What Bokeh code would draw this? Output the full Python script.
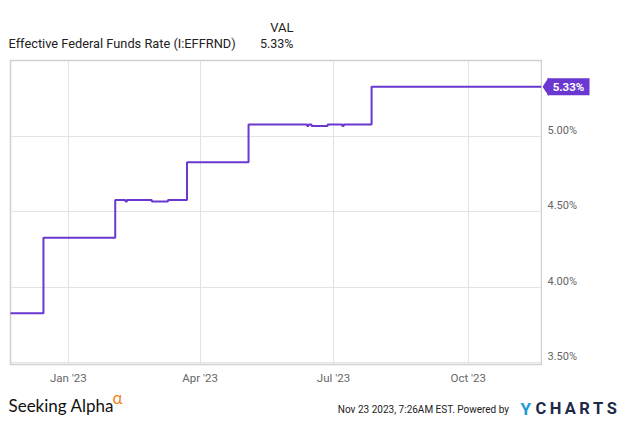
import pandas as pd
from bokeh.plotting import figure
from bokeh.layouts import column, row
from bokeh.models import (Range1d, FixedTicker, DatetimeTickFormatter, ColumnDataSource)
from bokeh.core.properties import value
from bokeh.embed import file_html
from bokeh.resources import INLINE

# ---------------- data ----------------
series_name = "Effective Federal Funds Rate (I:EFFRND)"
change_dates = ["2022-11-22", "2022-12-15", "2023-02-02", "2023-02-09", "2023-02-10",
                "2023-02-27", "2023-03-10", "2023-03-23", "2023-05-04", "2023-06-13",
                "2023-06-14", "2023-06-16", "2023-06-27", "2023-07-07", "2023-07-08",
                "2023-07-27", "2023-11-20"]
rate_values = [3.83, 4.33, 4.58, 4.57, 4.58,
               4.57, 4.58, 4.83, 5.08, 5.07,
               5.08, 5.07, 5.08, 5.07, 5.08,
               5.33, 5.33]
y_ticks = [3.5, 4.0, 4.5, 5.0]
y_tick_labels = [f"{t:.2f}%" for t in y_ticks]
x_tick_dates = ["2023-01-01", "2023-04-01", "2023-07-01", "2023-10-01"]
x_start, x_end = "2022-11-22 12:00", "2023-11-20"
y_start, y_end = 3.49, 5.503
footer_text = "Nov 23 2023, 7:26AM EST.  Powered by"

PURPLE = "#6a38d0"
FONT = "Roboto"
W = 619

def ms(d):
    return pd.Timestamp(d).value / 1e6

dates = pd.to_datetime(change_dates)
last_y = rate_values[-1]
last_label = f"{last_y:.2f}%"

def blank(fig):
    fig.background_fill_color = "white"
    fig.border_fill_color = "white"
    fig.outline_line_color = None
    fig.grid.visible = False
    return fig

# ---------------- header ----------------
hdr = blank(figure(width=W, height=52, output_backend="svg", toolbar_location=None,
                   x_range=Range1d(0, W), y_range=Range1d(52, 0),
                   x_axis_location=None, y_axis_location=None,
                   min_border=0))
hdr.text(x=[293], y=[27], text=["VAL"], text_align="right", text_baseline="middle",
         text_font=value(FONT), text_font_size="13px", text_color="#222222")
hdr.text(x=[8], y=[43], text=[series_name], text_align="left", text_baseline="middle",
         text_font=value(FONT), text_font_size="12.8px", text_color="#222222")
hdr.text(x=[293], y=[43], text=[last_label], text_align="right", text_baseline="middle",
         text_font=value(FONT), text_font_size="12.5px", text_color="#222222")

# ---------------- main chart ----------------
H_MAIN = 336
yr = Range1d(y_start, y_end)
p = figure(width=542, height=H_MAIN, output_backend="svg", toolbar_location=None,
           x_axis_type="datetime", y_axis_location=None,
           x_range=Range1d(ms(x_start), ms(x_end)), y_range=yr,
           min_border_left=10, min_border_right=1, min_border_top=8, min_border_bottom=24)
p.background_fill_color = "white"
p.border_fill_color = "white"
p.outline_line_color = "#d0d0d0"
p.outline_line_width = 1.5

xax = p.xaxis[0]
xax.ticker = FixedTicker(ticks=[ms(d) for d in x_tick_dates])
xax.formatter = DatetimeTickFormatter(days="%b '%y", months="%b '%y", years="%b '%y")
xax.axis_line_color = None
xax.major_tick_line_color = None
xax.minor_tick_line_color = None
xax.major_tick_out = 0
xax.major_tick_in = 0
xax.minor_tick_out = 0
xax.major_label_standoff = 6
xax.major_label_text_font = FONT
xax.major_label_text_font_size = "11.5px"
xax.major_label_text_color = "#666666"

p.ygrid[0].ticker = FixedTicker(ticks=y_ticks)
for g in (p.xgrid[0], p.ygrid[0]):
    g.grid_line_color = "#e2e2e2"
    g.grid_line_width = 1

src = ColumnDataSource(dict(x=dates, y=rate_values))
p.step("x", "y", source=src, mode="after", line_width=2, line_color=PURPLE)

# ---------------- right labels / end tag ----------------
r = blank(figure(width=W - 542, height=H_MAIN, output_backend="svg", toolbar_location=None,
                 x_range=Range1d(0, W - 542), y_range=yr,
                 x_axis_location=None, y_axis_location=None,
                 min_border_left=0, min_border_right=0, min_border_top=8, min_border_bottom=24))
r.text(x=[5] * len(y_ticks), y=y_ticks, text=y_tick_labels, y_offset=-6,
       text_align="left", text_baseline="middle", text_font=value(FONT),
       text_font_size="11px", text_color="#666666")
r.scatter(x=[6], y=[last_y], marker="diamond", size=18, fill_color=PURPLE, line_color=None)
r.rect(x=[26], y=[last_y], width=42, height=17, height_units="screen",
       fill_color=PURPLE, line_color=None)
r.text(x=[26], y=[last_y], text=[last_label], text_align="center", text_baseline="middle",
       text_font=value(FONT), text_font_size="11.5px", text_font_style="bold",
       text_color="white")

# ---------------- footer ----------------
H_FOOT = 419 - 52 - H_MAIN
ft = blank(figure(width=W, height=H_FOOT, output_backend="svg", toolbar_location=None,
                  x_range=Range1d(0, W), y_range=Range1d(H_FOOT, 0),
                  x_axis_location=None, y_axis_location=None, min_border=0))
ft.text(x=[8], y=[17], text=["Seeking Alpha"], text_align="left", text_baseline="middle",
        text_font=value("Lato"), text_font_size="17px", text_color="#111111")
ft.text(x=[112], y=[9], text=["\u03b1"], text_align="left", text_baseline="middle",
        text_font=value("Lato"), text_font_size="17px", text_color="#f5821f")
ft.text(x=[511], y=[21], text=[footer_text], text_align="right", text_baseline="middle",
        text_font=value(FONT), text_font_size="10px", text_color="#222222")
ft.text(x=[520], y=[20], text=["Y"], text_align="left", text_baseline="middle",
        text_font=value(FONT), text_font_size="17px", text_font_style="bold",
        text_color="#1e9ad8")
ft.text(x=[535], y=[20], text=["C\u2009H\u2009A\u2009R\u2009T\u2009S"], text_align="left",
        text_baseline="middle", text_font=value(FONT), text_font_size="16.5px",
        text_font_style="bold", text_color="#1c2a48")

layout = column(hdr, row(p, r), ft)
open("out.html", "w").write(file_html(layout, INLINE))
